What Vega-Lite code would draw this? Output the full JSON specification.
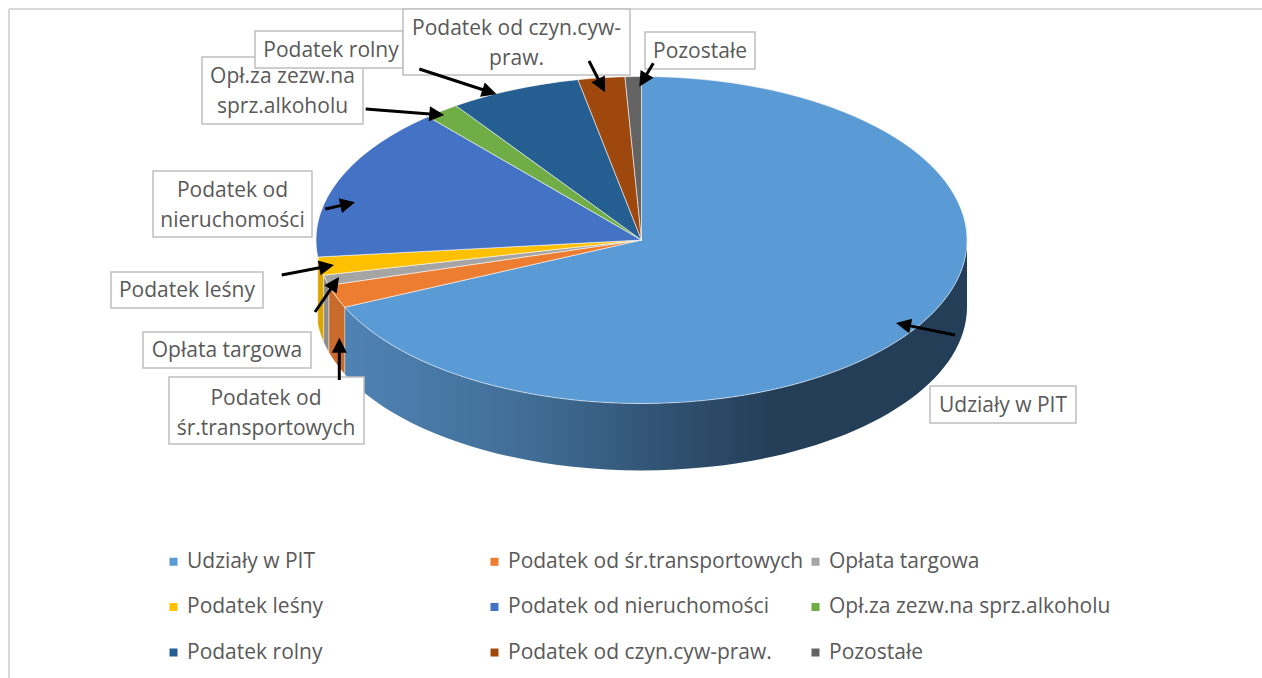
{
"$schema":"https://vega.github.io/schema/vega-lite/v6.json",
"width":1262,"height":678,"padding":0,"autosize":{"type":"none"},
"background":"#ffffff",
"view":{"stroke":null},
"config":{"legend":{"labelFont":"Open Sans","labelFontSize":21,"labelColor":"#595959","labelLimit":500,"symbolStrokeWidth":0,"symbolSize":64,"labelOffset":3}},
"datasets":{
"slices":[
{"slice":"Udziały w PIT","wedge":"w1","value":68.2},
{"slice":"Podatek od śr.transportowych","wedge":"w2","value":2.2},
{"slice":"Opłata targowa","wedge":"w3","value":1.1},
{"slice":"Podatek leśny","wedge":"w4","value":1.8},
{"slice":"Podatek od nieruchomości","wedge":"w5","value":15.3},
{"slice":"Opł.za zezw.na sprz.alkoholu","wedge":"w6","value":1.7},
{"slice":"Podatek rolny","wedge":"w7","value":6.5},
{"slice":"Podatek od czyn.cyw-praw.","wedge":"w8","value":2.3},
{"slice":"Pozostałe","wedge":"w9","value":0.8}
],
"notes":[
{"label":"Opł.za zezw.na\nsprz.alkoholu","x0":202,"x1":363,"y0":57,"y1":124,"tx":282.5,"ty":76.5,"ax":365.7,"ay":109,"nx":436.3,"ny":114.4,"hx":444.3,"hy":115,"angle":94.4},
{"label":"Podatek rolny","x0":255,"x1":403,"y0":31,"y1":68,"tx":331,"ty":50.5,"ax":419.3,"ay":69,"nx":489.1,"ny":91.8,"hx":496.7,"hy":94.3,"angle":108.1},
{"label":"Podatek od czyn.cyw-\npraw.","x0":403,"x1":630,"y0":9,"y1":75,"tx":516.5,"ty":29,"ax":589,"ay":61,"nx":601.4,"ny":85.2,"hx":605,"hy":92.3,"angle":152.9},
{"label":"Pozostałe","x0":645,"x1":755,"y0":32,"y1":69,"tx":700,"ty":51.5,"ax":653.3,"ay":63.3,"nx":643.4,"ny":79.8,"hx":639.3,"hy":86.7,"angle":210.9},
{"label":"Udziały w PIT","x0":930,"x1":1076,"y0":386,"y1":423,"tx":1003,"ty":405.5,"ax":955,"ay":335,"nx":903.8,"ny":324.6,"hx":896,"hy":323,"angle":281.5},
{"label":"Opłata targowa","x0":143,"x1":311,"y0":332,"y1":368,"tx":227,"ty":351,"ax":315,"ay":312,"nx":334.5,"ny":283.6,"hx":339,"hy":277,"angle":34.4},
{"label":"Podatek od\nśr.transportowych","x0":169,"x1":364,"y0":377,"y1":444,"tx":266,"ty":399,"ax":339.3,"ay":380,"nx":339.3,"ny":345.7,"hx":339.3,"hy":337.7,"angle":0},
{"label":"Podatek leśny","x0":111,"x1":263,"y0":272,"y1":308,"tx":187,"ty":291,"ax":281.7,"ay":275,"nx":326.1,"ny":266.5,"hx":334,"hy":265,"angle":79.2},
{"label":"Podatek od\nnieruchomości","x0":153,"x1":312,"y0":171,"y1":237,"tx":232.5,"ty":191,"ax":325.3,"ay":209,"nx":347.2,"ny":204.1,"hx":355,"hy":202.3,"angle":77.3}
]
},
"resolve":{"scale":{"shape":"independent","color":"independent"}},
"layer":[
{"data":{"values":[{"edge":"frame"}]},"mark":{"type":"rule","color":"#d9d9d9","strokeWidth":2},
 "encoding":{"x":{"datum":9,"type":"quantitative","scale":{"domain":[0,1262],"nice":false,"zero":false},"axis":null},"y":{"datum":9,"type":"quantitative","scale":{"domain":[0,678],"reverse":true,"nice":false,"zero":false},"axis":null},"x2":{"datum":1262}}},
{"data":{"values":[{"edge":"frame"}]},"mark":{"type":"rule","color":"#d9d9d9","strokeWidth":2},
 "encoding":{"x":{"datum":9,"type":"quantitative","scale":{"domain":[0,1262],"nice":false,"zero":false},"axis":null},"y":{"datum":9,"type":"quantitative","scale":{"domain":[0,678],"reverse":true,"nice":false,"zero":false},"axis":null},"y2":{"datum":678}}},
{"data":{"name":"slices"},"transform":[{"filter":"datum.wedge==='w1'"}],
 "mark":{"type":"point","filled":true,"opacity":1,"size":423801,"fill":{"gradient":"linear","x1":0,"y1":0,"x2":1,"y2":0,"stops":[{"offset":0,"color":"#4f83b5"},{"offset":0.32,"color":"#3f6b92"},{"offset":0.48,"color":"#335678"},{"offset":0.69,"color":"#243e57"},{"offset":1,"color":"#243e57"}]}},
 "encoding":{"x":{"datum":641.5,"type":"quantitative","scale":{"domain":[0,1262],"nice":false,"zero":false},"axis":null},"y":{"datum":240,"type":"quantitative","scale":{"domain":[0,678],"reverse":true,"nice":false,"zero":false},"axis":null},
 "shape":{"field":"wedge","type":"nominal","legend":null,"scale":{"domain":["w1"],"range":["M -0.9116 0.2064 A 1 0.5023 0 0 0 1 0 L 1 0.2058 A 1 0.5023 0 0 1 -0.9116 0.4122 Z"]}}}},
{"data":{"name":"slices"},"transform":[{"filter":{"field":"wedge","oneOf":["w2","w3","w4"]}}],
 "mark":{"type":"point","filled":true,"opacity":1,"size":423801,"stroke":"#ffffff","strokeWidth":0.8,"strokeOpacity":0.5},
 "encoding":{"x":{"datum":641.5,"type":"quantitative","scale":{"domain":[0,1262],"nice":false,"zero":false},"axis":null},"y":{"datum":240,"type":"quantitative","scale":{"domain":[0,678],"reverse":true,"nice":false,"zero":false},"axis":null},
 "color":{"field":"wedge","type":"nominal","legend":null,"scale":{"domain":["w2","w3","w4"],"range":["#c96b2b","#8c8c8c","#dba500"]}},
 "shape":{"field":"wedge","type":"nominal","legend":null,"scale":{"domain":["w2","w3","w4"],"range":[
 "M -0.9608 0.1392 A 1 0.5023 0 0 0 -0.9116 0.2064 L -0.9116 0.4122 A 1 0.5023 0 0 1 -0.9608 0.345 Z",
 "M -0.9766 0.108 A 1 0.5023 0 0 0 -0.9608 0.1392 L -0.9608 0.345 A 1 0.5023 0 0 1 -0.9766 0.3138 Z",
 "M -0.9946 0.0522 A 1 0.5023 0 0 0 -0.9766 0.108 L -0.9766 0.3138 A 1 0.5023 0 0 1 -0.9946 0.258 Z"]}}}},
{"data":{"name":"slices"},
 "mark":{"type":"point","filled":true,"opacity":1,"size":423801,"stroke":"#ffffff","strokeWidth":1,"strokeOpacity":0.55},
 "encoding":{"x":{"datum":641.5,"type":"quantitative","scale":{"domain":[0,1262],"nice":false,"zero":false},"axis":null},"y":{"datum":240,"type":"quantitative","scale":{"domain":[0,678],"reverse":true,"nice":false,"zero":false},"axis":null},
 "tooltip":{"field":"value","type":"quantitative"},
 "color":{"field":"slice","type":"nominal","title":null,
  "scale":{"domain":["Udziały w PIT","Podatek od śr.transportowych","Opłata targowa","Podatek leśny","Podatek od nieruchomości","Opł.za zezw.na sprz.alkoholu","Podatek rolny","Podatek od czyn.cyw-praw.","Pozostałe"],"range":["#5b9bd5","#ed7d31","#a5a5a5","#ffc000","#4472c4","#70ad47","#255e91","#9e480e","#636363"]},
  "legend":{"orient":"none","legendX":163,"legendY":551,"direction":"horizontal","columns":3,"gridAlign":"all","symbolType":"square","columnPadding":1,"rowPadding":23.5}},
 "shape":{"field":"wedge","type":"nominal","legend":null,"scale":{"domain":["w1","w2","w3","w4","w5","w6","w7","w8","w9"],"range":[
 "M 0 0 L 0 -0.5023 A 1 0.5023 0 1 1 -0.9116 0.2064 Z",
 "M 0 0 L -0.9116 0.2064 A 1 0.5023 0 0 1 -0.9608 0.1392 Z",
 "M 0 0 L -0.9608 0.1392 A 1 0.5023 0 0 1 -0.9766 0.108 Z",
 "M 0 0 L -0.9766 0.108 A 1 0.5023 0 0 1 -0.9946 0.0522 Z",
 "M 0 0 L -0.9946 0.0522 A 1 0.5023 0 0 1 -0.656 -0.379 Z",
 "M 0 0 L -0.656 -0.379 A 1 0.5023 0 0 1 -0.57 -0.4127 Z",
 "M 0 0 L -0.57 -0.4127 A 1 0.5023 0 0 1 -0.1951 -0.4927 Z",
 "M 0 0 L -0.1951 -0.4927 A 1 0.5023 0 0 1 -0.0507 -0.5017 Z",
 "M 0 0 L -0.0507 -0.5017 A 1 0.5023 0 0 1 0 -0.5023 Z"]}}}},
{"data":{"name":"notes"},"mark":{"type":"rect","fill":"#ffffff","stroke":"#bfbfbf","strokeWidth":1.5},
 "encoding":{"x":{"field":"x0","type":"quantitative","scale":{"domain":[0,1262],"nice":false,"zero":false},"axis":null},"x2":{"field":"x1"},"y":{"field":"y0","type":"quantitative","scale":{"domain":[0,678],"reverse":true,"nice":false,"zero":false},"axis":null},"y2":{"field":"y1"}}},
{"data":{"name":"notes"},"mark":{"type":"text","font":"Open Sans","fontSize":21,"color":"#595959","lineBreak":"\n","lineHeight":30,"align":"center","baseline":"middle"},
 "encoding":{"x":{"field":"tx","type":"quantitative","scale":{"domain":[0,1262],"nice":false,"zero":false},"axis":null},"y":{"field":"ty","type":"quantitative","scale":{"domain":[0,678],"reverse":true,"nice":false,"zero":false},"axis":null},"text":{"field":"label"}}},
{"data":{"name":"notes"},"mark":{"type":"rule","color":"#000000","strokeWidth":3},
 "encoding":{"x":{"field":"ax","type":"quantitative","scale":{"domain":[0,1262],"nice":false,"zero":false},"axis":null},"x2":{"field":"nx"},"y":{"field":"ay","type":"quantitative","scale":{"domain":[0,678],"reverse":true,"nice":false,"zero":false},"axis":null},"y2":{"field":"ny"}}},
{"data":{"name":"notes"},"mark":{"type":"point","filled":true,"opacity":1,"color":"#000000","size":900,"shape":"M 0 0 L -0.5 1 L 0.5 1 Z"},
 "encoding":{"x":{"field":"hx","type":"quantitative","scale":{"domain":[0,1262],"nice":false,"zero":false},"axis":null},"y":{"field":"hy","type":"quantitative","scale":{"domain":[0,678],"reverse":true,"nice":false,"zero":false},"axis":null},"angle":{"field":"angle","type":"quantitative","scale":null}}}
]
}
